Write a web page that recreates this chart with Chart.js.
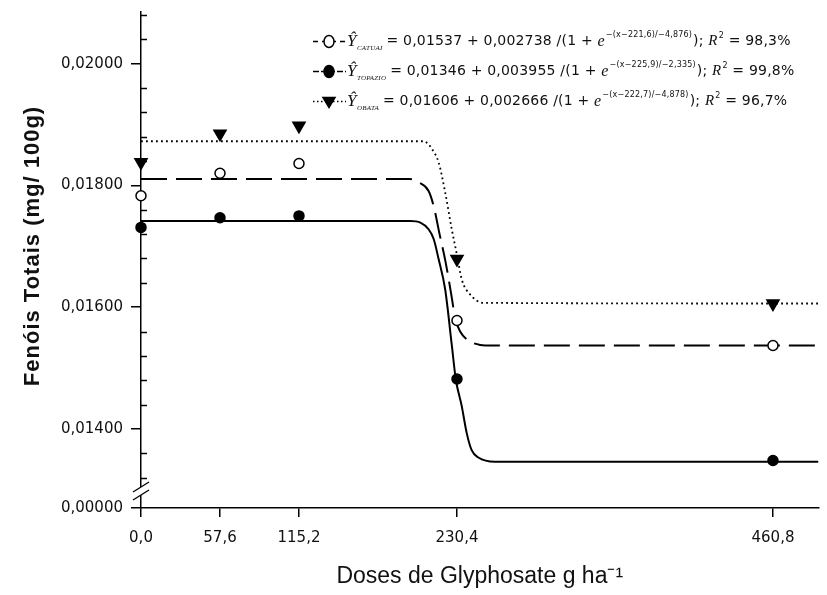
<!DOCTYPE html>
<html>
<head>
<meta charset="utf-8">
<script src="https://cdn.jsdelivr.net/npm/chart.js@4.4.1/dist/chart.umd.min.js"></script>
<style>
  html, body { margin: 0; padding: 0; background: #fff; }
</style>
</head>
<body>
<canvas id="chart" width="827" height="595"></canvas>
<script>
// glyphosate doses (g/ha)
const doses = [0, 57.6, 115.2, 230.4, 460.8];
const doseLabels = ['0,0', '57,6', '115,2', '230,4', '460,8'];

// observed total phenols (mg/100g) per cultivar
const catuai = [0.01783, 0.01820, 0.01836, 0.01578, 0.01537];
const topazio = [0.01731, 0.01747, 0.01750, 0.01482, 0.01348];
const obata = [0.01838, 0.01885, 0.01898, 0.01679, 0.01606];

// fitted sigmoid curves
const catuaiFitX = [0, 195.9, 202.5, 209.7, 213.4, 217.7, 222.1, 226.0, 229.3, 232.7, 237.6, 243.6, 250.9, 494];
const catuaiFitY = [0.018108, 0.018108, 0.01805, 0.01791, 0.01766, 0.01720, 0.01674, 0.01624, 0.01580, 0.01560, 0.01547, 0.01540, 0.01537, 0.01537];
const topazioFitX = [0, 196.4, 203.7, 209.7, 213.4, 217.0, 221.8, 226.6, 229.5, 233.9, 237.5, 241.1, 246.0, 258.1, 494];
const topazioFitY = [0.017415, 0.017415, 0.01739, 0.01728, 0.01712, 0.01679, 0.01629, 0.01538, 0.01482, 0.01437, 0.01393, 0.01365, 0.01353, 0.01346, 0.01346];
const obataFitX = [0, 206.1, 209.0, 212.1, 217.0, 221.8, 226.6, 230.3, 233.9, 240.0, 249.6, 494];
const obataFitY = [0.018726, 0.018726, 0.01869, 0.01860, 0.01838, 0.017885, 0.01728, 0.016867, 0.016455, 0.016208, 0.016071, 0.01606];

// y axis (broken: bottom value stands for zero)
const yMajor = [0.0127, 0.014, 0.016, 0.018, 0.020];
const yMajorLabels = ['0,00000', '0,01400', '0,01600', '0,01800', '0,02000'];
const yMinor = [0.0132, 0.0136, 0.0144, 0.0148, 0.0152, 0.0156, 0.0164, 0.0168, 0.0172, 0.0176,
                0.0184, 0.0188, 0.0192, 0.0196, 0.0204, 0.0208];

const legendRows = [
  { name: 'CATUAI', eq: '= 0,01537 + 0,002738 /(1 + ', exp: '−(x−221,6)/−4,876)', r2: ' = 98,3%', dash: [5, 4], style: 'open' },
  { name: 'TOPAZIO', eq: '= 0,01346 + 0,003955 /(1 + ', exp: '−(x−225,9)/−2,335)', r2: ' = 99,8%', dash: [6, 2], style: 'filled' },
  { name: 'OBATA', eq: '= 0,01606 + 0,002666 /(1 + ', exp: '−(x−222,7)/−4,878)', r2: ' = 96,7%', dash: [1.5, 2.5], style: 'triangle' }
];

function pairs(xs, ys) {
  return xs.map((x, i) => ({ x: x, y: ys[i] }));
}

function marker(ctx, style, x, y) {
  ctx.save();
  ctx.setLineDash([]);
  ctx.lineWidth = 1.5;
  ctx.strokeStyle = '#000';
  ctx.fillStyle = style === 'open' ? '#fff' : '#000';
  ctx.beginPath();
  if (style === 'triangle') {
    ctx.moveTo(x - 6, y - 4);
    ctx.lineTo(x + 6, y - 4);
    ctx.lineTo(x, y + 6);
    ctx.closePath();
  } else {
    ctx.ellipse(x, y, 5, 6, 0, 0, Math.PI * 2);
  }
  ctx.fill();
  ctx.stroke();
  ctx.restore();
}

function put(ctx, text, x, y, font) {
  ctx.font = font;
  ctx.fillText(text, x, y);
  return x + ctx.measureText(text).width;
}

const extras = {
  id: 'extras',
  afterDraw(chart) {
    const ctx = chart.ctx;
    const ys = chart.scales.y;
    const left = chart.chartArea.left;
    ctx.save();

    // inner minor ticks on the y axis
    ctx.strokeStyle = '#000';
    ctx.lineWidth = 1.5;
    yMinor.forEach(v => {
      const py = Math.round(ys.getPixelForValue(v)) + 0.5;
      ctx.beginPath();
      ctx.moveTo(left, py);
      ctx.lineTo(left + 6, py);
      ctx.stroke();
    });

    // axis break marks
    ctx.fillStyle = '#fff';
    ctx.fillRect(left - 3, 487, 6, 8);
    ctx.lineWidth = 1.3;
    [[492, 482], [500, 490]].forEach(s => {
      ctx.beginPath();
      ctx.moveTo(left - 8, s[0]);
      ctx.lineTo(left + 8, s[1]);
      ctx.stroke();
    });

    // y axis title
    ctx.save();
    ctx.translate(33, 246);
    ctx.rotate(-Math.PI / 2);
    ctx.fillStyle = '#111';
    ctx.textAlign = 'center';
    ctx.textBaseline = 'middle';
    ctx.letterSpacing = '1px';
    ctx.font = 'bold 22px "Liberation Sans", Arial, sans-serif';
    ctx.fillText('Fenóis Totais (mg/ 100g)', 0, 0);
    ctx.restore();

    // regression legend
    ctx.fillStyle = '#111';
    ctx.textBaseline = 'middle';
    ctx.textAlign = 'left';
    ctx.letterSpacing = '0.2px';
    legendRows.forEach((row, i) => {
      const y = 41.5 + i * 30;
      ctx.save();
      ctx.lineWidth = 1.5;
      ctx.setLineDash(row.dash);
      ctx.beginPath();
      ctx.moveTo(313, y);
      ctx.lineTo(346, y);
      ctx.stroke();
      ctx.restore();
      marker(ctx, row.style, 329, y);

      put(ctx, 'Ŷ', 347, y, 'italic 17px "Liberation Serif", serif');
      let x = put(ctx, row.name, 357, y + 7, 'italic 7px "Liberation Serif", serif');
      x = put(ctx, row.eq, x + 4, y, '14px "DejaVu Sans", sans-serif');
      x = put(ctx, 'e', x, y, 'italic 16px "Liberation Serif", serif');
      x = put(ctx, row.exp, x + 1, y - 7, '8px "DejaVu Sans", sans-serif');
      x = put(ctx, '); ', x + 1, y, '14px "DejaVu Sans", sans-serif');
      x = put(ctx, 'R', x, y, 'italic 15px "Liberation Serif", serif');
      x = put(ctx, '2', x + 1, y - 6, '8px "DejaVu Sans", sans-serif');
      put(ctx, row.r2, x, y, '14px "DejaVu Sans", sans-serif');
    });
    ctx.restore();
  }
};

const pointSet = (data, style) => ({
  data: pairs(doses, data),
  showLine: false,
  pointStyle: style === 'triangle' ? 'triangle' : 'circle',
  rotation: style === 'triangle' ? 180 : 0,
  pointRadius: style === 'triangle' ? 7 : 5,
  pointBackgroundColor: style === 'open' ? '#fff' : '#000',
  pointBorderColor: '#000',
  pointBorderWidth: 1.5,
  clip: false
});

const curveSet = (xs, ys, dash, width) => ({
  data: pairs(xs, ys),
  showLine: true,
  pointRadius: 0,
  borderColor: '#000',
  borderWidth: width,
  borderDash: dash,
  cubicInterpolationMode: 'monotone',
  fill: false
});

const ctx = document.getElementById('chart').getContext('2d');
new Chart(ctx, {
  type: 'scatter',
  data: {
    datasets: [
      pointSet(catuai, 'open'),
      pointSet(topazio, 'filled'),
      pointSet(obata, 'triangle'),
      curveSet(catuaiFitX, catuaiFitY, [26, 9], 2),
      curveSet(topazioFitX, topazioFitY, [], 2),
      curveSet(obataFitX, obataFitY, [1.8, 3.2], 1.8)
    ]
  },
  options: {
    responsive: false,
    animation: false,
    devicePixelRatio: 1,
    layout: { padding: { left: 0, right: 5, top: 12, bottom: 0 } },
    plugins: { legend: { display: false }, tooltip: { enabled: false } },
    scales: {
      x: {
        type: 'linear',
        min: 0,
        max: 494,
        afterBuildTicks: s => { s.ticks = doses.map(v => ({ value: v })); },
        afterFit: s => { s.height = 87; s.paddingLeft = 0; s.paddingRight = 0; },
        ticks: {
          autoSkip: false,
          maxRotation: 0,
          padding: 12,
          color: '#111',
          font: { family: 'DejaVu Sans', size: 15 },
          callback: (v, i) => doseLabels[i]
        },
        grid: { drawOnChartArea: false, tickLength: 9, color: '#000', lineWidth: 1.5 },
        border: { color: '#000', width: 1.5 },
        title: {
          display: true,
          text: 'Doses de Glyphosate g ha⁻¹',
          color: '#111',
          font: { family: 'Liberation Sans', size: 23 },
          padding: { top: 0, bottom: 5 }
        }
      },
      y: {
        type: 'linear',
        min: 0.0127,
        max: 0.02085,
        afterBuildTicks: s => { s.ticks = yMajor.map(v => ({ value: v })); },
        afterFit: s => { s.width = 141; s.paddingTop = 0; s.paddingBottom = 0; },
        ticks: {
          autoSkip: false,
          padding: 8,
          color: '#111',
          font: { family: 'DejaVu Sans', size: 15 },
          callback: (v, i) => yMajorLabels[i]
        },
        grid: { drawOnChartArea: false, tickLength: 10, color: '#000', lineWidth: 1.5 },
        border: { color: '#000', width: 1.5 }
      }
    }
  },
  plugins: [extras]
});
</script>
</body>
</html>
